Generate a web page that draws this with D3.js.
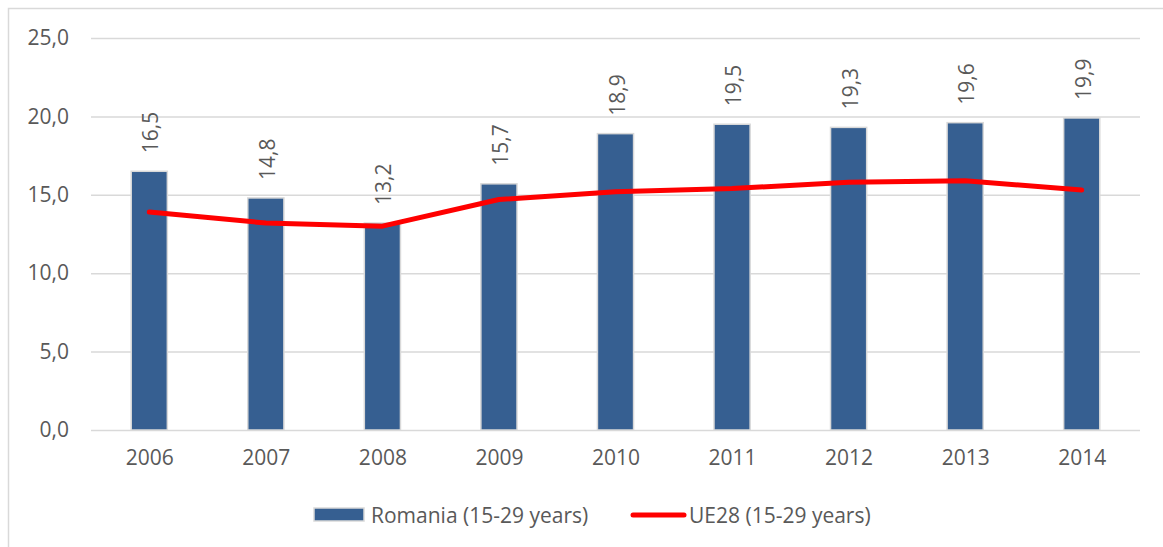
<!DOCTYPE html>
<html>
<head>
<meta charset="utf-8">
<script src="https://cdn.jsdelivr.net/npm/d3@7"></script>
<style>
  body { margin: 0; background: #fff; }
  svg { display: block; }
  text { font-family: "Open Sans", "Liberation Sans", sans-serif; fill: #595959; }
</style>
</head>
<body>
<div id="chart"></div>
<script>
// data
var years = ['2006', '2007', '2008', '2009', '2010', '2011', '2012', '2013', '2014'];
var romania = [16.5, 14.8, 13.2, 15.7, 18.9, 19.5, 19.3, 19.6, 19.9];
var ue28 = [13.9, 13.2, 13.0, 14.7, 15.2, 15.4, 15.8, 15.9, 15.3];
var yTicks = [0, 5, 10, 15, 20, 25];
var seriesNames = ['Romania (15-29 years)', 'UE28 (15-29 years)'];

var width = 1163,
    height = 547,
    plotLeft = 91, plotRight = 1140,
    plotTop = 38, plotBottom = 430,
    fontSize = '21px';

var fmt = function(v) { return d3.format('.1f')(v).replace('.', ','); };

var svg = d3.select('#chart').append('svg')
    .attr('width', width)
    .attr('height', height);

// chart frame (only left and top edges are inside the window)
svg.append('rect')
    .attr('x', 8.5).attr('y', 8.5)
    .attr('width', 1200).attr('height', 600)
    .attr('fill', 'none')
    .attr('stroke', '#d9d9d9')
    .attr('stroke-width', 1.5);

var x = d3.scaleBand()
    .domain(years)
    .range([plotLeft, plotRight])
    .paddingInner(0.69)
    .paddingOuter(0.345);

var xc = d3.scalePoint()
    .domain(years)
    .range([plotLeft, plotRight])
    .padding(0.5);

var y = d3.scaleLinear()
    .domain([0, 25])
    .range([plotBottom, plotTop]);

// gridlines + y labels
var yAxis = svg.append('g')
    .attr('transform', 'translate(' + plotLeft + ',0)')
    .call(d3.axisLeft(y).tickValues(yTicks).tickSize(-(plotRight - plotLeft)).tickPadding(22).tickFormat(fmt));
yAxis.select('.domain').remove();
yAxis.selectAll('.tick line').attr('stroke', '#d9d9d9').attr('stroke-width', 1.5);
yAxis.selectAll('.tick text')
    .style('font-size', fontSize)
    .attr('fill', '#595959');

// x labels
var xAxis = svg.append('g')
    .attr('transform', 'translate(0,' + plotBottom + ')')
    .call(d3.axisBottom(xc).tickSize(0).tickPadding(20));
xAxis.select('.domain').remove();
xAxis.selectAll('.tick text')
    .style('font-size', fontSize)
    .attr('fill', '#595959');

// bars
svg.append('g').selectAll('rect')
    .data(romania)
    .enter()
    .append('rect')
    .attr('x', function(d, i) { return x(years[i]); })
    .attr('y', function(d) { return y(d); })
    .attr('width', x.bandwidth())
    .attr('height', function(d) { return y(0) - y(d); })
    .attr('fill', '#365f91')
    .attr('stroke', '#d9d9d9')
    .attr('stroke-width', 1.5);

// bar value labels, rotated
svg.append('g').selectAll('text')
    .data(romania)
    .enter()
    .append('text')
    .attr('transform', function(d, i) {
        return 'translate(' + (xc(years[i]) + 1) + ',' + (y(d) - 18) + ') rotate(-90)';
    })
    .attr('dominant-baseline', 'central')
    .style('font-size', fontSize)
    .text(fmt);

// UE28 line
var line = d3.line()
    .x(function(d, i) { return xc(years[i]); })
    .y(function(d) { return y(d); });

svg.append('path')
    .datum(ue28)
    .attr('d', line)
    .attr('fill', 'none')
    .attr('stroke', '#ff0000')
    .attr('stroke-width', 5)
    .attr('stroke-linecap', 'round')
    .attr('stroke-linejoin', 'round');

// legend
var lg = svg.append('g');
lg.append('rect')
    .attr('x', 314).attr('y', 508)
    .attr('width', 50).attr('height', 13)
    .attr('fill', '#365f91')
    .attr('stroke', '#d9d9d9')
    .attr('stroke-width', 1.5);
lg.append('text')
    .attr('x', 371).attr('y', 515)
    .attr('dominant-baseline', 'central')
    .style('font-size', fontSize)
    .text(seriesNames[0]);
lg.append('line')
    .attr('x1', 633).attr('x2', 684)
    .attr('y1', 515).attr('y2', 515)
    .attr('stroke', '#ff0000')
    .attr('stroke-width', 5)
    .attr('stroke-linecap', 'round');
lg.append('text')
    .attr('x', 689).attr('y', 515)
    .attr('dominant-baseline', 'central')
    .style('font-size', fontSize)
    .text(seriesNames[1]);
</script>
</body>
</html>
